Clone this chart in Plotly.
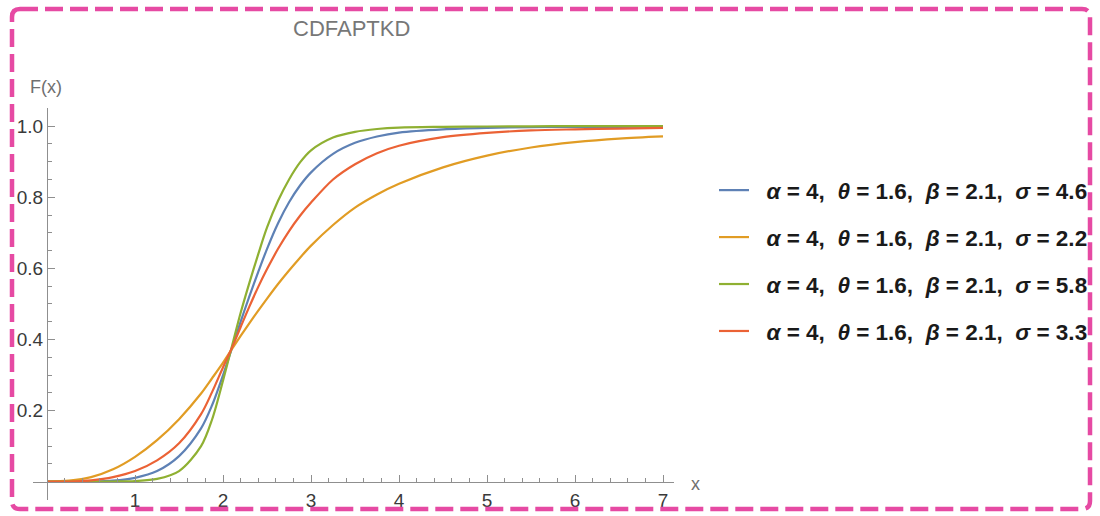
import plotly.graph_objects as go

# Sample points of each CDF curve
x_vals = [0, 0.25, 0.5, 0.75, 1.0, 1.25, 1.5, 1.75, 1.875, 2.0, 2.1, 2.2, 2.3, 2.4, 2.5,
          2.625, 2.75, 2.875, 3.0, 3.25, 3.5, 3.75, 4.0, 4.5, 5.0, 5.5, 6.0, 6.5, 7.0]

cdf_sigma_46 = [0, 0, 0.0005, 0.003, 0.011, 0.030, 0.072, 0.150, 0.215, 0.300, 0.375, 0.450, 0.522,
                0.590, 0.655, 0.727, 0.786, 0.833, 0.870, 0.922, 0.953, 0.971, 0.982, 0.991,
                0.995, 0.997, 0.998, 0.998, 0.999]
cdf_sigma_22 = [0, 0.003, 0.013, 0.035, 0.070, 0.117, 0.176, 0.248, 0.291, 0.335, 0.373, 0.410, 0.446,
                0.481, 0.515, 0.556, 0.594, 0.630, 0.664, 0.722, 0.771, 0.808, 0.838, 0.884,
                0.917, 0.940, 0.955, 0.965, 0.971]
cdf_sigma_58 = [0, 0, 0, 0.0005, 0.002, 0.008, 0.030, 0.100, 0.175, 0.285, 0.380, 0.475, 0.560,
                0.640, 0.715, 0.790, 0.850, 0.898, 0.932, 0.968, 0.984, 0.992, 0.996, 0.998,
                0.999, 0.9995, 1.0, 1.0, 1.0]
cdf_sigma_33 = [0, 0.0005, 0.004, 0.013, 0.030, 0.060, 0.108, 0.190, 0.252, 0.322, 0.376, 0.435, 0.493,
                0.548, 0.598, 0.655, 0.705, 0.748, 0.785, 0.850, 0.893, 0.924, 0.945, 0.969,
                0.981, 0.988, 0.991, 0.993, 0.995]

NB = "\u00a0"
series_names = [
    NB * 2 + "<b><i>α</i> = 4,  <i>θ</i> = 1.6,  <i>β</i> = 2.1,  <i>σ</i> = 4.6</b>",
    NB * 2 + "<b><i>α</i> = 4,  <i>θ</i> = 1.6,  <i>β</i> = 2.1,  <i>σ</i> = 2.2</b>",
    NB * 2 + "<b><i>α</i> = 4,  <i>θ</i> = 1.6,  <i>β</i> = 2.1,  <i>σ</i> = 5.8</b>",
    NB * 2 + "<b><i>α</i> = 4,  <i>θ</i> = 1.6,  <i>β</i> = 2.1,  <i>σ</i> = 3.3</b>",
]
series_values = [cdf_sigma_46, cdf_sigma_22, cdf_sigma_58, cdf_sigma_33]
series_colors = ["#5E81B5", "#E19C24", "#8FB032", "#EB6235"]

x_tick_vals = [1, 2, 3, 4, 5, 6, 7]
x_tick_text = ["1", "2", "3", "4", "5", "6", "7"]
y_tick_vals = [0.2, 0.4, 0.6, 0.8, 1.0]
y_tick_text = ["0.2", "0.4", "0.6", "0.8", "1.0"]

x_range = [-0.16, 7.125]
y_range = [-0.0514, 1.051]

# where the axes cross (x = 0, y = 0) as fractions of the plot area
x_axis_pos = (0 - y_range[0]) / (y_range[1] - y_range[0])
y_axis_pos = (0 - x_range[0]) / (x_range[1] - x_range[0])

axis_grey = "#8f8f8f"
label_grey = "#6f6f6f"
font_family = "Liberation Sans, Arial, sans-serif"

fig = go.Figure()
for i, (name, vals, color) in enumerate(zip(series_names, series_values, series_colors)):
    fig.add_trace(go.Scatter(
        x=x_vals, y=vals, mode="lines", name=name,
        line=dict(color=color, width=2.2, shape="spline", smoothing=0.9),
        legendgroup=f"g{i}", hoverinfo="skip",
    ))

W, H = 1100, 516
ml, mr, mt, mb = 33, 426, 108, 16
pw, ph = W - ml - mr, H - mt - mb


def px_to_paper(px, py):
    return (px - ml) / pw, (H - mb - py) / ph


# dashed rounded frame around the whole figure
x0, y0 = px_to_paper(12, 509)
x1, y1 = px_to_paper(1090, 9)
rx, ry = 8 / pw, 8 / ph
frame_path = (
    f"M {x0 + rx},{y1} L {x1 - rx},{y1} Q {x1},{y1} {x1},{y1 - ry} "
    f"L {x1},{y0 + ry} Q {x1},{y0} {x1 - rx},{y0} "
    f"L {x0 + rx},{y0} Q {x0},{y0} {x0},{y0 + ry} "
    f"L {x0},{y1 - ry} Q {x0},{y1} {x0 + rx},{y1} Z"
)
fig.add_shape(type="path", path=frame_path, xref="paper", yref="paper",
              line=dict(color="#E64AA3", width=4.5, dash="18px,7px"))

tx, ty = px_to_paper(351, 28)
fig.add_annotation(text="CDFAPTKD", x=tx, y=ty, xref="paper", yref="paper",
                   showarrow=False, xanchor="center", yanchor="middle",
                   font=dict(family=font_family, size=22, color="#777777"))
fx, fy = px_to_paper(46, 87)
fig.add_annotation(text="F(x)", x=fx, y=fy, xref="paper", yref="paper",
                   showarrow=False, xanchor="center", yanchor="middle",
                   font=dict(family=font_family, size=18, color=label_grey))
lx, ly = px_to_paper(695, 484)
fig.add_annotation(text="x", x=lx, y=ly, xref="paper", yref="paper",
                   showarrow=False, xanchor="center", yanchor="middle",
                   font=dict(family=font_family, size=18, color=label_grey))

tick_font = dict(family=font_family, size=19, color="#3a3a3a")

fig.update_xaxes(
    range=x_range, anchor="free", position=x_axis_pos,
    showline=True, linecolor=axis_grey, linewidth=1.4,
    showgrid=False, zeroline=False, automargin=False,
    tickmode="array", tickvals=x_tick_vals, ticktext=x_tick_text,
    ticks="inside", ticklen=6.5, tickwidth=1.2, tickcolor=axis_grey,
    tickfont=tick_font, ticklabelstandoff=1,
    minor=dict(ticks="inside", ticklen=3.5, tickwidth=1.1, tickcolor=axis_grey,
               tickmode="array",
               tickvals=[round(0.2 * k, 1) for k in range(1, 36)]),
)
fig.update_yaxes(
    range=y_range, anchor="free", position=y_axis_pos,
    showline=True, linecolor=axis_grey, linewidth=1.4,
    showgrid=False, zeroline=False, automargin=False,
    tickmode="array", tickvals=y_tick_vals, ticktext=y_tick_text,
    ticks="inside", ticklen=6.5, tickwidth=1.2, tickcolor=axis_grey,
    tickfont=tick_font,
    minor=dict(ticks="inside", ticklen=3.5, tickwidth=1.1, tickcolor=axis_grey,
               tickmode="array",
               tickvals=[round(0.05 * k, 2) for k in range(1, 22)]),
)

lgx, lgy = px_to_paper(714, 169)
fig.update_layout(
    width=W, height=H,
    margin=dict(l=ml, r=mr, t=mt, b=mb, autoexpand=False),
    paper_bgcolor="white", plot_bgcolor="white",
    showlegend=True,
    legend=dict(x=lgx, y=lgy, xanchor="left", yanchor="top",
                font=dict(family=font_family, size=22.5, color="#1a1a1a"),
                tracegroupgap=14.7,
                bgcolor="rgba(0,0,0,0)", borderwidth=0),
)

fig.write_html("out.html")
